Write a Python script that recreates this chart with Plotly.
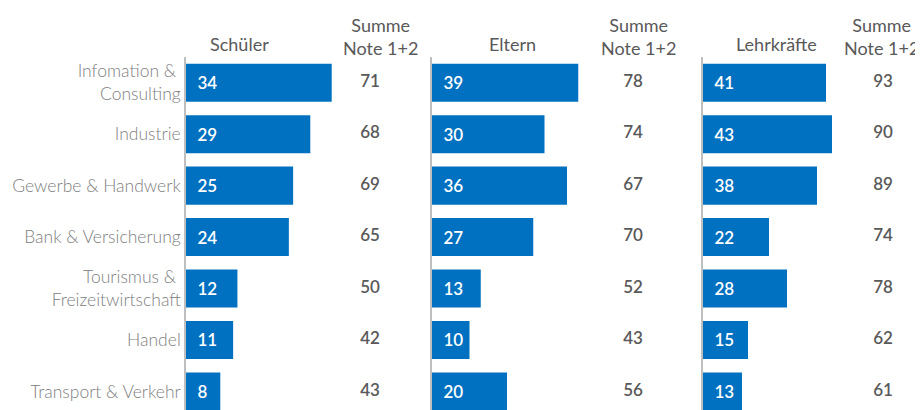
import plotly.graph_objects as go

# page size and body offset of the html page (default 8px body margin)
PAGE_W, PAGE_H = 923, 410
OFF = 8
W, H = PAGE_W - OFF, PAGE_H - OFF

categories = ["Infomation &\u00a0<br>Consulting", "Industrie", "Gewerbe & Handwerk",
              "Bank & Versicherung", "Tourismus &\u00a0<br>Freizeitwirtschaft",
              "Handel", "Transport & Verkehr"]

groups = ["Schüler", "Eltern", "Lehrkräfte"]
schueler = [34, 29, 25, 24, 12, 11, 8]
schueler_summe = [71, 68, 69, 65, 50, 42, 43]
eltern = [39, 30, 36, 27, 13, 10, 20]
eltern_summe = [78, 74, 67, 70, 52, 43, 56]
lehrkraefte = [41, 43, 38, 22, 28, 15, 13]
lehrkraefte_summe = [93, 90, 89, 74, 78, 62, 61]
summe_header = "Summe<br>Note 1+2"

BAR = "#0070C0"
DARK = "#595959"
CAT = "#808080"
LINE = "#bfbfbf"
FONT = "Lato"

TOP = 57  # page y of plot top
plot_h = PAGE_H - TOP

def px(x):
    return (x - OFF) / W

def py(y):
    return (PAGE_H - y) / plot_h

# layout positions (page pixels)
bar_domains = [(186, 336), (432, 582), (703, 838)]
bar_ranges = [35, 40, 45]
summe_centers = [370, 633, 883]
group_centers = [239, 513, 776]
summe_head_centers = [380, 638, 881]

series = [schueler, eltern, lehrkraefte]
summes = [schueler_summe, eltern_summe, lehrkraefte_summe]

fig = go.Figure()

for i in range(3):
    xa = "x" if i == 0 else f"x{i+1}"
    ya = "y" if i == 0 else f"y{i+1}"
    fig.add_trace(go.Bar(
        x=series[i], y=categories, orientation="h",
        xaxis=xa, yaxis=ya,
        marker=dict(color=BAR, line=dict(width=0)),
        text=series[i], texttemplate="\u00a0\u00a0%{text}",
        textposition="inside", insidetextanchor="start",
        textfont=dict(family=FONT, size=17, color="white", weight=600),
        constraintext="none",
        hoverinfo="skip", showlegend=False,
    ))
    sx = f"x{i+4}"
    fig.add_trace(go.Scatter(
        x=[0] * len(categories), y=categories, mode="text",
        xaxis=sx, yaxis="y",
        text=[str(v) for v in summes[i]],
        textposition="middle center",
        textfont=dict(family=FONT, size=17, color=DARK, weight=600),
        hoverinfo="skip", showlegend=False, cliponaxis=False,
    ))

layout = dict(
    width=W, height=H,
    margin=dict(l=0, r=0, t=TOP - OFF, b=0, autoexpand=False),
    paper_bgcolor="white", plot_bgcolor="white",
    bargap=0.26,
    font=dict(family=FONT, color=DARK),
    showlegend=False,
)

yrange = [-0.5 + plot_h / 51.45, -0.5]

for i in range(3):
    d0, d1 = bar_domains[i]
    key = "xaxis" if i == 0 else f"xaxis{i+1}"
    layout[key] = dict(domain=[px(d0), px(d1)], range=[0, bar_ranges[i]],
                       visible=False, anchor="y" if i == 0 else f"y{i+1}")
    ykey = "yaxis" if i == 0 else f"yaxis{i+1}"
    yd = dict(domain=[0, 1], range=yrange, type="category",
              anchor="x" if i == 0 else f"x{i+1}",
              showline=True, linecolor=LINE, linewidth=1.5,
              showgrid=False, zeroline=False,
              ticks="", automargin=False,
              categoryorder="array", categoryarray=categories)
    if i == 0:
        yd.update(showticklabels=True,
                  tickfont=dict(family=FONT, size=17.5, color=CAT, weight=300),
                  ticklabelstandoff=0)
    else:
        yd.update(showticklabels=False, matches="y")
    layout[ykey] = yd

for i in range(3):
    c = summe_centers[i]
    layout[f"xaxis{i+4}"] = dict(domain=[px(c - 20), px(c + 20)], range=[-1, 1],
                                 visible=False, anchor="y")

annotations = []
for i in range(3):
    annotations.append(dict(
        text=groups[i], x=px(group_centers[i]), y=py(44),
        xref="paper", yref="paper", xanchor="center", yanchor="middle",
        showarrow=False, font=dict(family=FONT, size=18, color=DARK)))
    annotations.append(dict(
        text=summe_header, x=px(summe_head_centers[i]), y=py(36.5),
        xref="paper", yref="paper", xanchor="center", yanchor="middle",
        showarrow=False, font=dict(family=FONT, size=18, color=DARK)))
layout["annotations"] = annotations

fig.update_layout(**layout)
fig.write_html("out.html")
